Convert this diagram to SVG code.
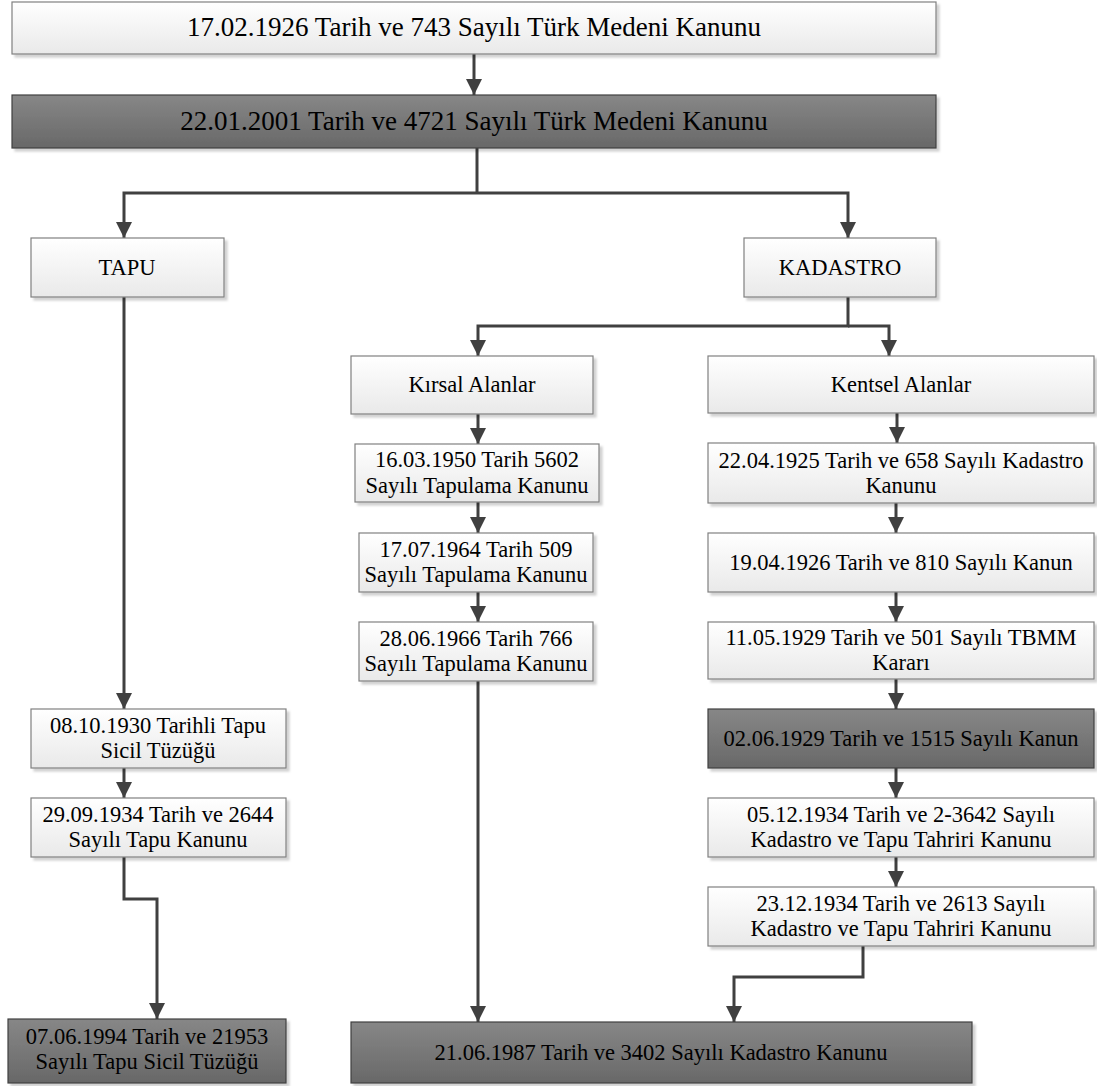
<svg xmlns="http://www.w3.org/2000/svg" width="1097" height="1086" viewBox="0 0 1097 1086">
<defs>
<linearGradient id="gl" x1="0" y1="0" x2="0" y2="1">
<stop offset="0" stop-color="#ffffff"/>
<stop offset="1" stop-color="#e9e9e9"/>
</linearGradient>
<linearGradient id="gd" x1="0" y1="0" x2="0" y2="1">
<stop offset="0" stop-color="#878787"/>
<stop offset="1" stop-color="#686868"/>
</linearGradient>
<filter id="sh" x="-5%" y="-10%" width="115%" height="130%">
<feDropShadow dx="3" dy="3" stdDeviation="1" flood-color="#000" flood-opacity="0.18"/>
</filter>
<marker id="ah" markerUnits="userSpaceOnUse" viewBox="0 0 16 16" refX="16" refY="8" markerWidth="16" markerHeight="16" orient="auto">
<path d="M0,0 L16,8 L0,16 z" fill="#404040"/>
</marker>
<style>
.l{fill:url(#gl);stroke:#808080;stroke-width:1.2;filter:url(#sh)}
.d{fill:url(#gd);stroke:#404040;stroke-width:1.2;filter:url(#sh)}
.t text{font-family:'Liberation Serif','Tinos','Times New Roman','DejaVu Serif',serif;font-size:22.5px;fill:#000;text-anchor:middle}
.t text.big{font-size:27px}
.c path{fill:none;stroke:#404040;stroke-width:3}
.a{marker-end:url(#ah)}
</style>
</defs>
<g class="c" id="connectors">
<path class="a" d="M474,54 V95"/>
<path d="M477,148 V193"/>
<path class="a" d="M477,193 H124 V238"/>
<path class="a" d="M477,193 H848 V238"/>
<path class="a" d="M124,297 V709"/>
<path class="a" d="M848,297 V326 H478 V356"/>
<path class="a" d="M848,326 H889 V356"/>
<path class="a" d="M478,414 V444"/>
<path class="a" d="M478,502 V533"/>
<path class="a" d="M478,592 V622"/>
<path class="a" d="M478,681 V1022"/>
<path class="a" d="M897,413 V443"/>
<path class="a" d="M896,503 V533"/>
<path class="a" d="M896,592 V622"/>
<path class="a" d="M896,679 V709"/>
<path class="a" d="M896,768 V798"/>
<path class="a" d="M896,857 V887"/>
<path class="a" d="M863,946 V977 H734 V1022"/>
<path class="a" d="M124,768 V798"/>
<path class="a" d="M124,857 V899 H157 V1019"/>
</g>
<g class="t">
<g id="n1"><rect class="l" x="12" y="2" width="924" height="52"/><text class="big" x="474" y="36">17.02.1926 Tarih ve 743 Sayılı Türk Medeni Kanunu</text></g>
<g id="n2"><rect class="d" x="12" y="95" width="924" height="53"/><text class="big" x="474" y="130">22.01.2001 Tarih ve 4721 Sayılı Türk Medeni Kanunu</text></g>
<g id="tapu"><rect class="l" x="31" y="238" width="193" height="59"/><text x="127" y="275">TAPU</text></g>
<g id="kadastro"><rect class="l" x="744" y="238" width="192" height="59"/><text x="840" y="275">KADASTRO</text></g>
<g id="kirsal"><rect class="l" x="351" y="356" width="242" height="58"/><text x="472" y="392">Kırsal Alanlar</text></g>
<g id="kentsel"><rect class="l" x="708" y="356" width="386" height="57"/><text x="901" y="392">Kentsel Alanlar</text></g>
<g id="k1950"><rect class="l" x="355" y="444" width="244" height="58"/><text x="477" y="467">16.03.1950 Tarih 5602</text><text x="477" y="492.5">Sayılı Tapulama Kanunu</text></g>
<g id="k1964"><rect class="l" x="359" y="533" width="234" height="59"/><text x="476" y="557">17.07.1964 Tarih 509</text><text x="476" y="582">Sayılı Tapulama Kanunu</text></g>
<g id="k1966"><rect class="l" x="359" y="622" width="234" height="59"/><text x="476" y="646">28.06.1966 Tarih 766</text><text x="476" y="671">Sayılı Tapulama Kanunu</text></g>
<g id="k1925"><rect class="l" x="708" y="443" width="386" height="60"/><text x="901" y="467.5">22.04.1925 Tarih ve 658 Sayılı Kadastro</text><text x="901" y="492.5">Kanunu</text></g>
<g id="k1926"><rect class="l" x="708" y="533" width="386" height="59"/><text x="901" y="570">19.04.1926 Tarih ve 810 Sayılı Kanun</text></g>
<g id="k1929a"><rect class="l" x="708" y="622" width="386" height="57"/><text x="901" y="645">11.05.1929 Tarih ve 501 Sayılı TBMM</text><text x="901" y="670">Kararı</text></g>
<g id="k1929b"><rect class="d" x="708" y="709" width="386" height="59"/><text x="901" y="746">02.06.1929 Tarih ve 1515 Sayılı Kanun</text></g>
<g id="k1934a"><rect class="l" x="708" y="798" width="386" height="59"/><text x="901" y="822">05.12.1934 Tarih ve 2-3642 Sayılı</text><text x="901" y="847">Kadastro ve Tapu Tahriri Kanunu</text></g>
<g id="k1934b"><rect class="l" x="708" y="887" width="386" height="59"/><text x="901" y="911">23.12.1934 Tarih ve 2613 Sayılı</text><text x="901" y="936">Kadastro ve Tapu Tahriri Kanunu</text></g>
<g id="k1987"><rect class="d" x="351" y="1022" width="621" height="61"/><text x="661" y="1060">21.06.1987 Tarih ve 3402 Sayılı Kadastro Kanunu</text></g>
<g id="t1930"><rect class="l" x="31" y="709" width="255" height="59"/><text x="158" y="733">08.10.1930 Tarihli Tapu</text><text x="158" y="758">Sicil Tüzüğü</text></g>
<g id="t1934"><rect class="l" x="31" y="798" width="255" height="59"/><text x="158" y="822">29.09.1934 Tarih ve 2644</text><text x="158" y="847">Sayılı Tapu Kanunu</text></g>
<g id="t1994"><rect class="d" x="8" y="1019" width="278" height="64"/><text x="147" y="1044">07.06.1994 Tarih ve 21953</text><text x="147" y="1069">Sayılı Tapu Sicil Tüzüğü</text></g>
</g>
</svg>
